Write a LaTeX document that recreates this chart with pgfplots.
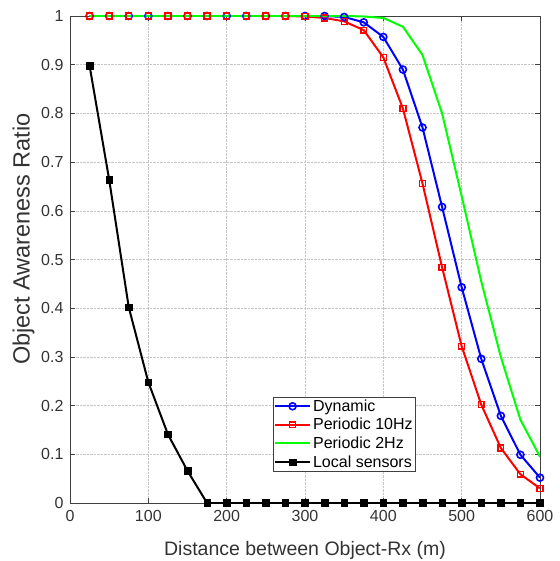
\documentclass[border=0pt]{standalone}
\usepackage{pgfplots}
\pgfplotsset{compat=1.18}
\usepackage{fontspec}
\setmainfont{Liberation Sans}
\definecolor{mblue}{RGB}{0,0,255}
\definecolor{mred}{RGB}{255,0,0}
\definecolor{mgreen}{RGB}{0,255,0}
\begin{document}
\begin{tikzpicture}
\path[use as bounding box] (-70pt,-58pt) rectangle (489pt,503pt);
\begin{axis}[
  at={(0,0)}, anchor=origin,
  scale only axis, width=470pt, height=487pt,
  xmin=0, xmax=600, ymin=0, ymax=1,
  xtick={0,100,...,600},
  ytick={0,0.1,...,1},
  yticklabels={0,0.1,0.2,0.3,0.4,0.5,0.6,0.7,0.8,0.9,1},
  tick align=inside,
  tick pos=both,
  major tick length=5pt,
  grid=major,
  major grid style={gray!45, densely dotted},
  axis line style={black!75},
  every tick/.style={black!75},
  /pgf/number format/assume math mode=true,
  tick label style={font=\fontsize{16}{18}\selectfont, text=black!80},
  xticklabel style={yshift=-4pt},
  yticklabel style={xshift=-3pt},
  xlabel={Distance between Object-Rx (m)},
  ylabel={Object Awareness Ratio},
  xlabel style={at={(axis description cs:0.5,-0.107)}, anchor=base, font=\fontsize{19.5}{22}\selectfont, text=black!80, inner sep=0pt},
  ylabel style={at={(axis description cs:-0.099,0.542)}, anchor=center, font=\fontsize{23.5}{26}\selectfont, text=black!80, inner sep=0pt},
  legend style={at={(axis cs:259,0.064)}, anchor=south west,
    font=\fontsize{16}{18}\selectfont, draw=black!75, inner sep=1pt,
    row sep=1.5pt, cells={anchor=west}},
  legend cell align=left,
  legend image code/.code={%
    \draw[mark repeat=2,mark phase=2] plot coordinates {(0pt,0pt) (17.5pt,0pt) (35pt,0pt)};},
]
\addplot[mblue, line width=2pt, mark=o, mark size=3.5pt, mark options={line width=1.6pt, fill=white}] coordinates {
(25,1)(50,1)(75,1)(100,1)(125,1)(150,1)(175,1)(200,1)(225,1)(250,1)(275,1)(300,1)(325,1)
(350,0.998)(375,0.987)(400,0.957)(425,0.89)(450,0.771)(475,0.608)(500,0.443)(525,0.296)(550,0.179)(575,0.099)(600,0.052)};
\addlegendentry{Dynamic}
\addplot[mred, line width=2pt, mark=square, mark size=2.9pt, mark options={line width=1.4pt, fill=white}] coordinates {
(25,1)(50,1)(75,1)(100,1)(125,1)(150,1)(175,1)(200,1)(225,1)(250,1)(275,1)(300,0.999)(325,0.996)
(350,0.989)(375,0.971)(400,0.915)(425,0.81)(450,0.656)(475,0.484)(500,0.322)(525,0.202)(550,0.113)(575,0.059)(600,0.030)};
\addlegendentry{Periodic 10Hz}
\addplot[mgreen, line width=2pt, no marks] coordinates {
(25,1)(50,1)(75,1)(100,1)(125,1)(150,1)(175,1)(200,1)(225,1)(250,1)(275,1)(300,1)(325,1)
(350,1)(375,0.999)(400,0.996)(425,0.978)(450,0.92)(475,0.80)(500,0.63)(525,0.455)(550,0.30)(575,0.171)(600,0.095)};
\addlegendentry{Periodic 2Hz}
\addplot[black, line width=2pt, mark=square*, mark size=3.3pt, mark options={line width=0.5pt}] coordinates {
(25,0.898)(50,0.664)(75,0.402)(100,0.248)(125,0.141)(150,0.066)(175,0)(200,0)(225,0)(250,0)(275,0)(300,0)(325,0)
(350,0)(375,0)(400,0)(425,0)(450,0)(475,0)(500,0)(525,0)(550,0)(575,0)(600,0)};
\addlegendentry{Local sensors}
\end{axis}
\end{tikzpicture}
\end{document}
